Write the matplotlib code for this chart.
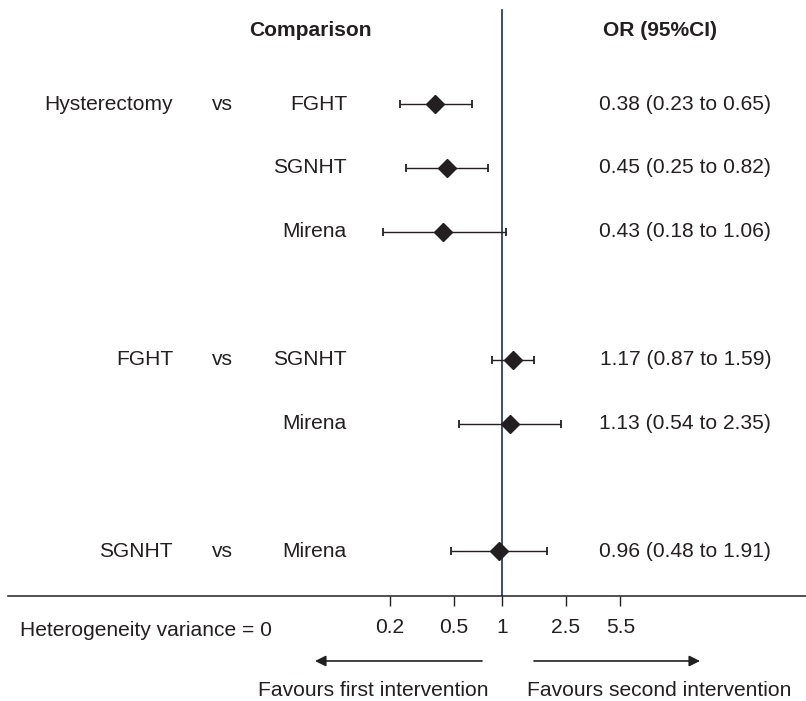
import numpy as np
import matplotlib
matplotlib.use("Agg")
import matplotlib.pyplot as plt

plt.rcParams['font.family'] = ['Liberation Sans', 'DejaVu Sans']

# data
first = ["Hysterectomy", "", "", "FGHT", "", "SGNHT"]
second = ["FGHT", "SGNHT", "Mirena", "SGNHT", "Mirena", "Mirena"]
odds = [0.38, 0.45, 0.43, 1.17, 1.13, 0.96]
lower = [0.23, 0.25, 0.18, 0.87, 0.54, 0.48]
upper = [0.65, 0.82, 1.06, 1.59, 2.35, 1.91]
rows = [0, 1, 2, 4, 5, 7]
ticks = [0.2, 0.5, 1, 2.5, 5.5]
tick_labels = ["0.2", "0.5", "1", "2.5", "5.5"]

ink = "#231f20"
navy = "#1c2c66"
fs = 15.1

W, H = 806, 701
fig = plt.figure(figsize=(W / 100, H / 100), dpi=100)
ax = fig.add_axes([8 / W, (H - 596) / H, 798 / W, 596 / H])

# log x scale: 1 at px 502, 160 px per decade
ax.set_xscale("log")
ax.set_xlim(10 ** ((8 - 502) / 160), 10 ** ((806 - 502) / 160))
ax.set_ylim((596 - 104) / 63.9, -104 / 63.9)

odds = np.array(odds)
lo_err = odds - np.array(lower)
hi_err = np.array(upper) - odds
ax.errorbar(odds, rows, xerr=[lo_err, hi_err], fmt="D", color=ink,
            markersize=9, elinewidth=1.0, capsize=3, capthick=1.3, zorder=3)

ax.axvline(1, ymin=0, ymax=(596 - 10) / 596, color=navy, lw=1.2, zorder=2)

for s in ["top", "left", "right"]:
    ax.spines[s].set_visible(False)
ax.spines["bottom"].set_color(ink)
ax.spines["bottom"].set_linewidth(1.1)
ax.set_yticks([])
ax.set_xticks(ticks)
ax.set_xticklabels(tick_labels)
ax.xaxis.set_minor_locator(matplotlib.ticker.NullLocator())
ax.tick_params(axis="x", direction="out", length=7, width=1.0, color=ink,
               labelsize=fs, labelcolor=ink, pad=9)

tr = ax.get_yaxis_transform()
def ax_x(px):
    return (px - 8) / 798

head_row = (30 - 104) / 63.9
ax.text(ax_x(310), head_row, "Comparison", transform=tr, ha="center", va="center",
        fontsize=fs, fontweight="bold", color=ink)
ax.text(ax_x(660), head_row, "OR (95%CI)", transform=tr, ha="center", va="center",
        fontsize=fs, fontweight="bold", color=ink)

for f, s2, o, lo, hi, r in zip(first, second, odds, lower, upper, rows):
    if f:
        ax.text(ax_x(173), r, f, transform=tr, ha="right", va="center", fontsize=fs, color=ink)
        ax.text(ax_x(222), r, "vs", transform=tr, ha="center", va="center", fontsize=fs, color=ink)
    ax.text(ax_x(347), r, s2, transform=tr, ha="right", va="center", fontsize=fs, color=ink)
    ax.text(ax_x(771), r, f"{o:.2f} ({lo:.2f} to {hi:.2f})", transform=tr,
            ha="right", va="center", fontsize=fs, color=ink)

fig.text(20 / W, 1 - 630 / H, "Heterogeneity variance = 0", ha="left", va="center",
         fontsize=fs, color=ink)

arrow = dict(arrowstyle="-|>", color=ink, lw=1.2, mutation_scale=16, shrinkA=0, shrinkB=0)
ax.annotate("", xy=(315 / W, 1 - 661 / H), xytext=(482 / W, 1 - 661 / H),
            xycoords="figure fraction", textcoords="figure fraction",
            arrowprops=arrow, annotation_clip=False)
ax.annotate("", xy=(700 / W, 1 - 661 / H), xytext=(534 / W, 1 - 661 / H),
            xycoords="figure fraction", textcoords="figure fraction",
            arrowprops=arrow, annotation_clip=False)

fig.text(488 / W, 1 - 690 / H, "Favours first intervention", ha="right", va="center",
         fontsize=fs, color=ink)
fig.text(527 / W, 1 - 690 / H, "Favours second intervention", ha="left", va="center",
         fontsize=fs, color=ink)

fig.savefig("out.png", dpi=100)
